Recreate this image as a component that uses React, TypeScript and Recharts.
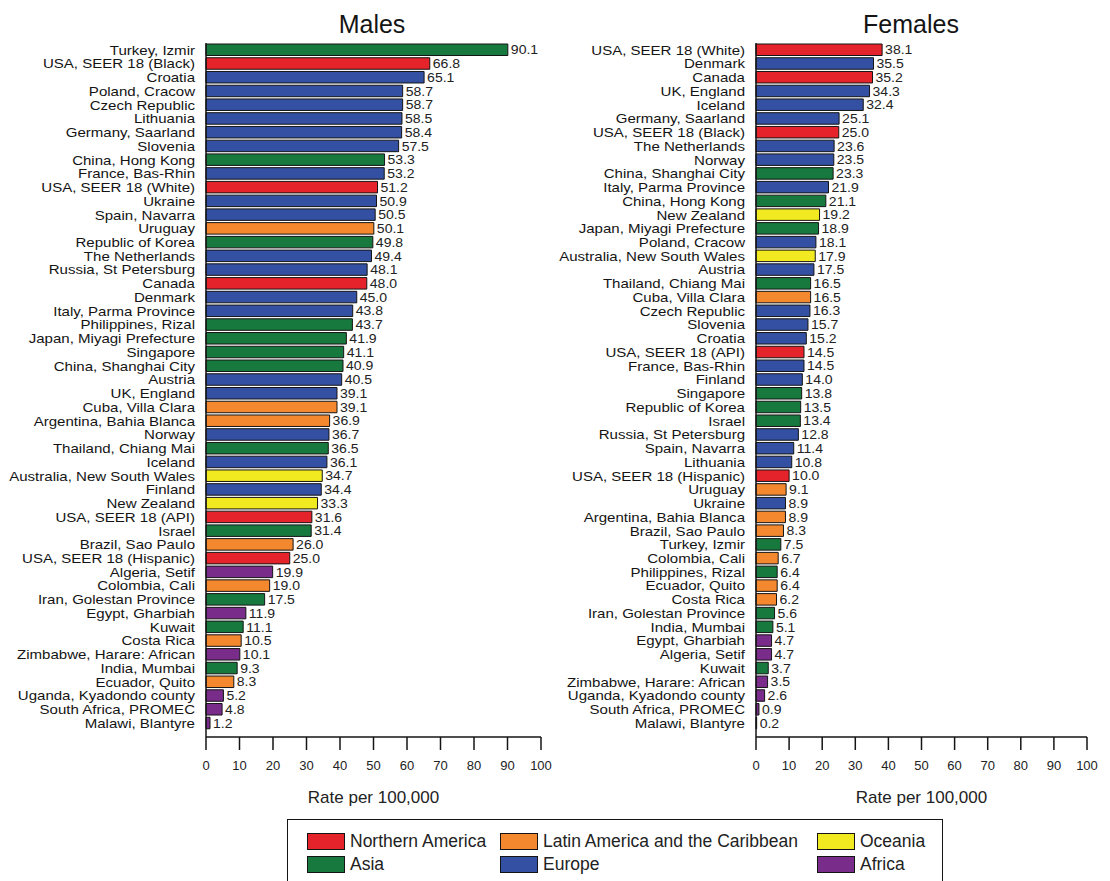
import { BarChart, Bar, XAxis, YAxis, Cell, LabelList, Label } from "recharts";

type Region = "NA" | "LA" | "OC" | "AS" | "EU" | "AF";

const regionNames: Record<Region, string> = {
  NA: "Northern America",
  LA: "Latin America and the Caribbean",
  OC: "Oceania",
  AS: "Asia",
  EU: "Europe",
  AF: "Africa",
};

const regionColors: Record<Region, string> = {
  NA: "#e4242a",
  LA: "#f4882e",
  OC: "#f2ea20",
  AS: "#17793d",
  EU: "#3450a2",
  AF: "#7a2c8a",
};

const maleSites = [
  "Turkey, Izmir", "USA, SEER 18 (Black)", "Croatia", "Poland, Cracow", "Czech Republic",
  "Lithuania", "Germany, Saarland", "Slovenia", "China, Hong Kong", "France, Bas-Rhin",
  "USA, SEER 18 (White)", "Ukraine", "Spain, Navarra", "Uruguay", "Republic of Korea",
  "The Netherlands", "Russia, St Petersburg", "Canada", "Denmark", "Italy, Parma Province",
  "Philippines, Rizal", "Japan, Miyagi Prefecture", "Singapore", "China, Shanghai City", "Austria",
  "UK, England", "Cuba, Villa Clara", "Argentina, Bahia Blanca", "Norway", "Thailand, Chiang Mai",
  "Iceland", "Australia, New South Wales", "Finland", "New Zealand", "USA, SEER 18 (API)",
  "Israel", "Brazil, Sao Paulo", "USA, SEER 18 (Hispanic)", "Algeria, Setif", "Colombia, Cali",
  "Iran, Golestan Province", "Egypt, Gharbiah", "Kuwait", "Costa Rica", "Zimbabwe, Harare: African",
  "India, Mumbai", "Ecuador, Quito", "Uganda, Kyadondo county", "South Africa, PROMEC", "Malawi, Blantyre",
];

const maleRates = [
  90.1, 66.8, 65.1, 58.7, 58.7, 58.5, 58.4, 57.5, 53.3, 53.2,
  51.2, 50.9, 50.5, 50.1, 49.8, 49.4, 48.1, 48.0, 45.0, 43.8,
  43.7, 41.9, 41.1, 40.9, 40.5, 39.1, 39.1, 36.9, 36.7, 36.5,
  36.1, 34.7, 34.4, 33.3, 31.6, 31.4, 26.0, 25.0, 19.9, 19.0,
  17.5, 11.9, 11.1, 10.5, 10.1, 9.3, 8.3, 5.2, 4.8, 1.2,
];

const maleRegions: Region[] = [
  "AS", "NA", "EU", "EU", "EU", "EU", "EU", "EU", "AS", "EU",
  "NA", "EU", "EU", "LA", "AS", "EU", "EU", "NA", "EU", "EU",
  "AS", "AS", "AS", "AS", "EU", "EU", "LA", "LA", "EU", "AS",
  "EU", "OC", "EU", "OC", "NA", "AS", "LA", "NA", "AF", "LA",
  "AS", "AF", "AS", "LA", "AF", "AS", "LA", "AF", "AF", "AF",
];

const femaleSites = [
  "USA, SEER 18 (White)", "Denmark", "Canada", "UK, England", "Iceland",
  "Germany, Saarland", "USA, SEER 18 (Black)", "The Netherlands", "Norway", "China, Shanghai City",
  "Italy, Parma Province", "China, Hong Kong", "New Zealand", "Japan, Miyagi Prefecture", "Poland, Cracow",
  "Australia, New South Wales", "Austria", "Thailand, Chiang Mai", "Cuba, Villa Clara", "Czech Republic",
  "Slovenia", "Croatia", "USA, SEER 18 (API)", "France, Bas-Rhin", "Finland",
  "Singapore", "Republic of Korea", "Israel", "Russia, St Petersburg", "Spain, Navarra",
  "Lithuania", "USA, SEER 18 (Hispanic)", "Uruguay", "Ukraine", "Argentina, Bahia Blanca",
  "Brazil, Sao Paulo", "Turkey, Izmir", "Colombia, Cali", "Philippines, Rizal", "Ecuador, Quito",
  "Costa Rica", "Iran, Golestan Province", "India, Mumbai", "Egypt, Gharbiah", "Algeria, Setif",
  "Kuwait", "Zimbabwe, Harare: African", "Uganda, Kyadondo county", "South Africa, PROMEC", "Malawi, Blantyre",
];

const femaleRates = [
  38.1, 35.5, 35.2, 34.3, 32.4, 25.1, 25.0, 23.6, 23.5, 23.3,
  21.9, 21.1, 19.2, 18.9, 18.1, 17.9, 17.5, 16.5, 16.5, 16.3,
  15.7, 15.2, 14.5, 14.5, 14.0, 13.8, 13.5, 13.4, 12.8, 11.4,
  10.8, 10.0, 9.1, 8.9, 8.9, 8.3, 7.5, 6.7, 6.4, 6.4,
  6.2, 5.6, 5.1, 4.7, 4.7, 3.7, 3.5, 2.6, 0.9, 0.2,
];

const femaleRegions: Region[] = [
  "NA", "EU", "NA", "EU", "EU", "EU", "NA", "EU", "EU", "AS",
  "EU", "AS", "OC", "AS", "EU", "OC", "EU", "AS", "LA", "EU",
  "EU", "EU", "NA", "EU", "EU", "AS", "AS", "AS", "EU", "EU",
  "EU", "NA", "LA", "EU", "LA", "LA", "AS", "LA", "AS", "LA",
  "LA", "AS", "AS", "AF", "AF", "AS", "AF", "AF", "AF", "AF",
];

const rateTicks = [0, 10, 20, 30, 40, 50, 60, 70, 80, 90, 100];

const legendRows: Region[][] = [
  ["NA", "LA", "OC"],
  ["AS", "EU", "AF"],
];

const INK = "#141414";
const AXIS_W = 206;
const CHART_H = 807;

// site names: a slightly widened small face so rows stay apart
function SiteTick(props: any) {
  const { x, y, payload } = props;
  return (
    <g transform={`translate(${x},${y}) scale(1.14,1)`}>
      <text x={0} y={0} dy="0.36em" textAnchor="end" fontSize={13.2} fill={INK}>
        {payload.value}
      </text>
    </g>
  );
}

// value printed just past the end of each bar
function RateLabel(props: any) {
  const { x, y, width, height, value } = props;
  const lx = Number(x) + Number(width) + 3;
  const ly = Number(y) + Number(height) / 2;
  return (
    <g transform={`translate(${lx},${ly}) scale(1.08,1)`}>
      <text x={0} y={0} dy="0.36em" fontSize={13} fill="#222">
        {Number(value).toFixed(1)}
      </text>
    </g>
  );
}

type PanelProps = {
  title: string;
  titleX: number;
  left: number;
  plotWidth: number;
  sites: string[];
  rates: number[];
  regions: Region[];
};

function RatePanel({ title, titleX, left, plotWidth, sites, rates, regions }: PanelProps) {
  const data = sites.map((site, i) => ({ site, rate: rates[i], region: regions[i] }));
  const width = AXIS_W + plotWidth + 20;
  return (
    <div style={{ position: "absolute", left, top: 0, width, height: CHART_H }}>
      <div
        style={{
          position: "absolute",
          left: titleX - left - 100,
          top: 12,
          width: 200,
          textAlign: "center",
          fontSize: 25,
          lineHeight: "25px",
          color: INK,
        }}
      >
        {title}
      </div>
      <BarChart
        width={width}
        height={CHART_H}
        data={data}
        layout="vertical"
        barSize={11.5}
        margin={{ top: 43, right: 20, bottom: 0, left: 0 }}
      >
        <XAxis
          type="number"
          domain={[0, 100]}
          ticks={rateTicks}
          interval={0}
          height={70}
          tickSize={13}
          tickMargin={11}
          axisLine={{ stroke: INK, strokeWidth: 1.5 }}
          tickLine={{ stroke: INK, strokeWidth: 1.5 }}
          tick={{ fontSize: 13, fill: "#222" }}
        >
          <Label value="Rate per 100,000" position="insideBottom" offset={4} fontSize={17} fill="#222" />
        </XAxis>
        <YAxis
          type="category"
          dataKey="site"
          width={AXIS_W}
          interval={0}
          tickLine={false}
          tickSize={8}
          tickMargin={3}
          padding={{ top: 0, bottom: 7 }}
          axisLine={{ stroke: INK, strokeWidth: 1.5 }}
          tick={<SiteTick />}
        />
        <Bar dataKey="rate" stroke={INK} strokeWidth={1} isAnimationActive={false}>
          {data.map((d) => (
            <Cell key={d.site} fill={regionColors[d.region]} />
          ))}
          <LabelList dataKey="rate" content={<RateLabel />} />
        </Bar>
      </BarChart>
    </div>
  );
}

const legendColX = [306, 499, 816];

function RegionLegend() {
  return (
    <div
      style={{
        position: "absolute",
        left: 287,
        top: 819,
        width: 656,
        height: 80,
        border: `1.5px solid ${INK}`,
        boxSizing: "border-box",
      }}
    >
      {legendRows.map((row, r) =>
        row.map((reg, c) => (
          <div
            key={reg}
            style={{
              position: "absolute",
              left: legendColX[c] - 287,
              top: 12 + r * 23,
              display: "flex",
              alignItems: "center",
              height: 18,
            }}
          >
            <div
              style={{
                width: 38,
                height: 17,
                background: regionColors[reg],
                border: `1.5px solid ${INK}`,
                boxSizing: "border-box",
                marginRight: 5,
              }}
            />
            <span style={{ fontSize: 17.5, color: "#222", whiteSpace: "nowrap" }}>{regionNames[reg]}</span>
          </div>
        ))
      )}
    </div>
  );
}

export default function App() {
  return (
    <div
      style={{
        position: "absolute",
        left: 0,
        top: 0,
        width: 1110,
        height: 881,
        overflow: "hidden",
        background: "#fff",
        fontFamily: "'Liberation Sans', Arial, sans-serif",
      }}
    >
      <RatePanel
        title="Males"
        titleX={372}
        left={0}
        plotWidth={335}
        sites={maleSites}
        rates={maleRates}
        regions={maleRegions}
      />
      <RatePanel
        title="Females"
        titleX={911}
        left={550}
        plotWidth={331}
        sites={femaleSites}
        rates={femaleRates}
        regions={femaleRegions}
      />
      <RegionLegend />
    </div>
  );
}
